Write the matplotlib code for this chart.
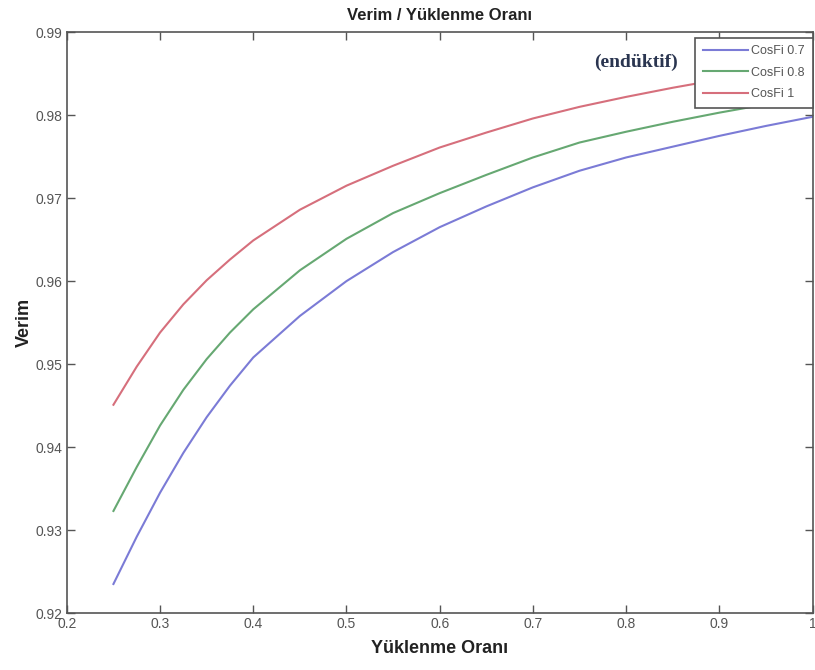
import matplotlib
matplotlib.use('Agg')
import matplotlib.pyplot as plt

plt.rcParams['font.family'] = ['Liberation Sans', 'DejaVu Sans']

# yuklenme orani ve her guc faktoru icin verim
yuklenme = [0.25, 0.275, 0.30, 0.325, 0.35, 0.375, 0.40, 0.45, 0.50, 0.55,
            0.60, 0.65, 0.70, 0.75, 0.80, 0.85, 0.90, 0.95, 1.00]
verim_07 = [0.9235, 0.9292, 0.9345, 0.9393, 0.9436, 0.9474, 0.9508, 0.9558, 0.9600, 0.9635,
            0.9665, 0.9690, 0.9713, 0.9733, 0.9749, 0.9762, 0.9775, 0.9787, 0.9798]
verim_08 = [0.9323, 0.9376, 0.9426, 0.9469, 0.9506, 0.9538, 0.9566, 0.9613, 0.9651, 0.9682,
            0.9706, 0.9728, 0.9749, 0.9767, 0.9780, 0.9792, 0.9803, 0.9813, 0.9822]
verim_1 = [0.9451, 0.9497, 0.9538, 0.9572, 0.9601, 0.9626, 0.9649, 0.9686, 0.9715, 0.9739,
           0.9761, 0.9779, 0.9796, 0.9810, 0.9822, 0.9833, 0.9843, 0.9850, 0.9857]
etiketler = ['CosFi 0.7', 'CosFi 0.8', 'CosFi 1']
renkler = ['#7b7bd6', '#66a872', '#d66f7c']

x_ticks = [0.2, 0.3, 0.4, 0.5, 0.6, 0.7, 0.8, 0.9, 1.0]
x_tick_lbl = ['0.2', '0.3', '0.4', '0.5', '0.6', '0.7', '0.8', '0.9', '1']
y_ticks = [0.92, 0.93, 0.94, 0.95, 0.96, 0.97, 0.98, 0.99]
y_tick_lbl = ['0.92', '0.93', '0.94', '0.95', '0.96', '0.97', '0.98', '0.99']

fig = plt.figure(figsize=(8.15, 6.70), dpi=100)
ax = fig.add_axes([0.082, 0.085, 0.915, 0.867])

for y, lbl, c in zip([verim_07, verim_08, verim_1], etiketler, renkler):
    ax.plot(yuklenme, y, color=c, lw=1.5, label=lbl)

ax.set_xlim(0.2, 1.0)
ax.set_ylim(0.92, 0.99)
ax.set_xticks(x_ticks)
ax.set_xticklabels(x_tick_lbl, fontsize=10, color='#555555')
ax.set_yticks(y_ticks)
ax.set_yticklabels(y_tick_lbl, fontsize=10, color='#555555')
ax.tick_params(direction='in', top=True, right=True, length=6, width=1, color='#555555', pad=3)
for s in ax.spines.values():
    s.set_color('#555555')
    s.set_linewidth(1.2)

ax.set_title('Verim / Yüklenme Oranı', fontsize=12, fontweight='bold', color='#222222', pad=9)
ax.set_xlabel('Yüklenme Oranı', fontsize=13, fontweight='bold', color='#222222', labelpad=6)
ax.set_ylabel('Verim', fontsize=13, fontweight='bold', color='#222222', labelpad=2)

leg = ax.legend(loc='upper right', bbox_to_anchor=(1.0, 0.99), prop={'size': 9},
                handlelength=3.6, handletextpad=0.3, labelspacing=0.75,
                borderaxespad=0.0, borderpad=0.6, fancybox=False, framealpha=1)
leg.get_frame().set_edgecolor('#555555')
leg.get_frame().set_linewidth(1.2)
for t in leg.get_texts():
    t.set_color('#555555')

ax.text(0.766, 0.9864, '(endüktif)', family=['Liberation Serif', 'DejaVu Serif'],
        fontsize=14, fontweight='bold', color='#2a3550', ha='left', va='center')

fig.savefig('out.png', dpi=100)
